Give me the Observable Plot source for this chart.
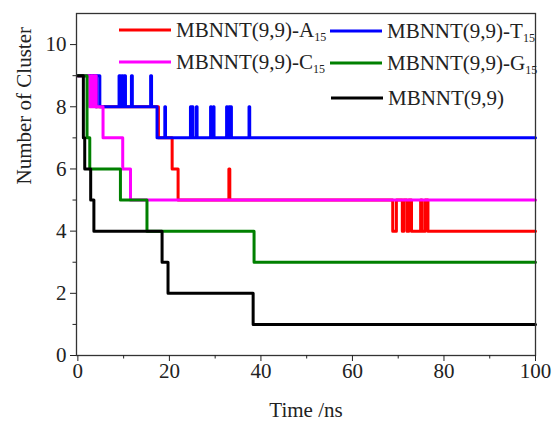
<!DOCTYPE html>
<html><head><meta charset="utf-8">
<script src="https://cdn.jsdelivr.net/npm/d3@7"></script>
<script src="https://cdn.jsdelivr.net/npm/@observablehq/plot@0.6"></script>
<style>
body{margin:0;background:#fff;}
#wrap{position:relative;width:554px;height:422px;font-family:"Liberation Serif","Times New Roman",serif;}
.leg{position:absolute;display:flex;align-items:center;font-size:21px;color:#222;white-space:nowrap;transform:translateY(-50%);line-height:1;}
.leg .sw{display:inline-block;width:52px;height:0;border-top:3.5px solid;margin-right:5px;}
.leg sub{font-size:12px;position:relative;top:4px;vertical-align:baseline;}
</style></head><body><div id="wrap"></div>
<script>
// Time (ns) at which each cluster count starts (step-after)
const timeA = [0,4.0,17.6,20.6,21.9,33.0,33.2,68.8,69.6,70.9,71.2,71.9,72.3,72.9,74.9,75.2,75.9,76.5,100];
const clusterA = [9,8,7,6,5,6,5,4,5,4,5,4,5,4,5,4,5,4,4];

const timeT = [0,3.9,4.1,4.8,9.0,9.3,9.6,9.8,10.1,10.4,11.7,11.9,15.9,16.1,17.3,19.0,19.15,24.6,24.75,25.0,25.15,25.9,26.05,29.0,29.15,29.6,29.75,32.5,32.65,33.0,33.15,33.4,33.55,37.4,37.55,100];
const clusterT = [9,8,9,8,9,8,9,8,9,8,9,8,9,8,7,8,7,8,7,8,7,8,7,8,7,8,7,8,7,8,7,8,7,8,7,7];

const timeC = [0,2.6,2.9,3.3,3.6,4.0,5.5,9.8,11.5,100];
const clusterC = [9,8,9,8,9,8,7,6,5,5];

const timeG = [0,2.0,2.6,9.3,15.1,38.5,100];
const clusterG = [9,7,6,5,4,3,3];

const timeP = [0,1.2,1.5,2.8,3.5,18.4,19.7,38.3,100];
const clusterP = [9,7,6,5,4,3,2,1,1];

const seriesNames = ["MBNNT(9,9)-A", "MBNNT(9,9)-T", "MBNNT(9,9)-C", "MBNNT(9,9)-G", "MBNNT(9,9)"];
const seriesSubs = ["15","15","15","15",""];
const seriesColors = ["#ff0000","#0000ff","#ff00ff","#008000","#000000"];
const seriesTimes = [timeA,timeT,timeC,timeG,timeP];
const seriesValues = [clusterA,clusterT,clusterC,clusterG,clusterP];

const xMajor = [0,20,40,60,80,100];
const xMinor = [10,30,50,70,90];
const yMajor = [0,2,4,6,8,10];
const yMinor = [1,3,5,7,9];
const xTitle = "Time /ns";
const yTitle = "Number of Cluster";

const rows = seriesNames.flatMap((name,k) => seriesTimes[k].map((t,i) => ({series:k, time:t, value:seriesValues[k][i]})));

const chart = Plot.plot({
  width:554, height:422,
  marginLeft:76, marginRight:19, marginTop:13, marginBottom:67,
  style:{fontFamily:"Liberation Serif, Times New Roman, serif", fontSize:"21px", color:"#222", background:"#fff"},
  x:{domain:[-0.3,100]},
  y:{domain:[0,11]},
  marks:[
    ...seriesNames.map((n,k) => Plot.line(rows.filter(r => r.series===k), {x:"time", y:"value", curve:"step-after", stroke:seriesColors[k], strokeWidth:3})),
    Plot.frame({stroke:"#333", strokeWidth:1.3}),
    Plot.axisX({ticks:xMajor, tickSize:6, tickPadding:2, tickFormat:d=>String(d), label:null, fontSize:21}),
    Plot.axisX({ticks:xMinor, tickSize:3.5, tickFormat:()=>"", label:null}),
    Plot.axisY({ticks:yMajor, tickSize:6, tickPadding:4, tickFormat:d=>String(d), label:null, fontSize:21}),
    Plot.axisY({ticks:yMinor, tickSize:3.5, tickFormat:()=>"", label:null}),
    Plot.text([xTitle], {text:d=>d, frameAnchor:"bottom", dy:55, lineAnchor:"middle", fontSize:21, fill:"#222"}),
    Plot.text([yTitle], {text:d=>d, frameAnchor:"left", dx:-52, rotate:-90, lineAnchor:"middle", fontSize:21, fill:"#222"})
  ]
});
const wrap = document.getElementById("wrap");
wrap.appendChild(chart);

const legPos = [[119,30],[330,31],[119,62],[330,63],[331,98]];
seriesNames.forEach((n,k) => {
  const d = document.createElement("div");
  d.className = "leg";
  d.style.left = legPos[k][0] + "px";
  d.style.top = legPos[k][1] + "px";
  const sw = document.createElement("span");
  sw.className = "sw";
  sw.style.borderTopColor = seriesColors[k];
  d.appendChild(sw);
  const tx = document.createElement("span");
  tx.textContent = n;
  if (seriesSubs[k]) {
    const s = document.createElement("sub");
    s.textContent = seriesSubs[k];
    tx.appendChild(s);
  }
  d.appendChild(tx);
  wrap.appendChild(d);
});
</script>
</body></html>
